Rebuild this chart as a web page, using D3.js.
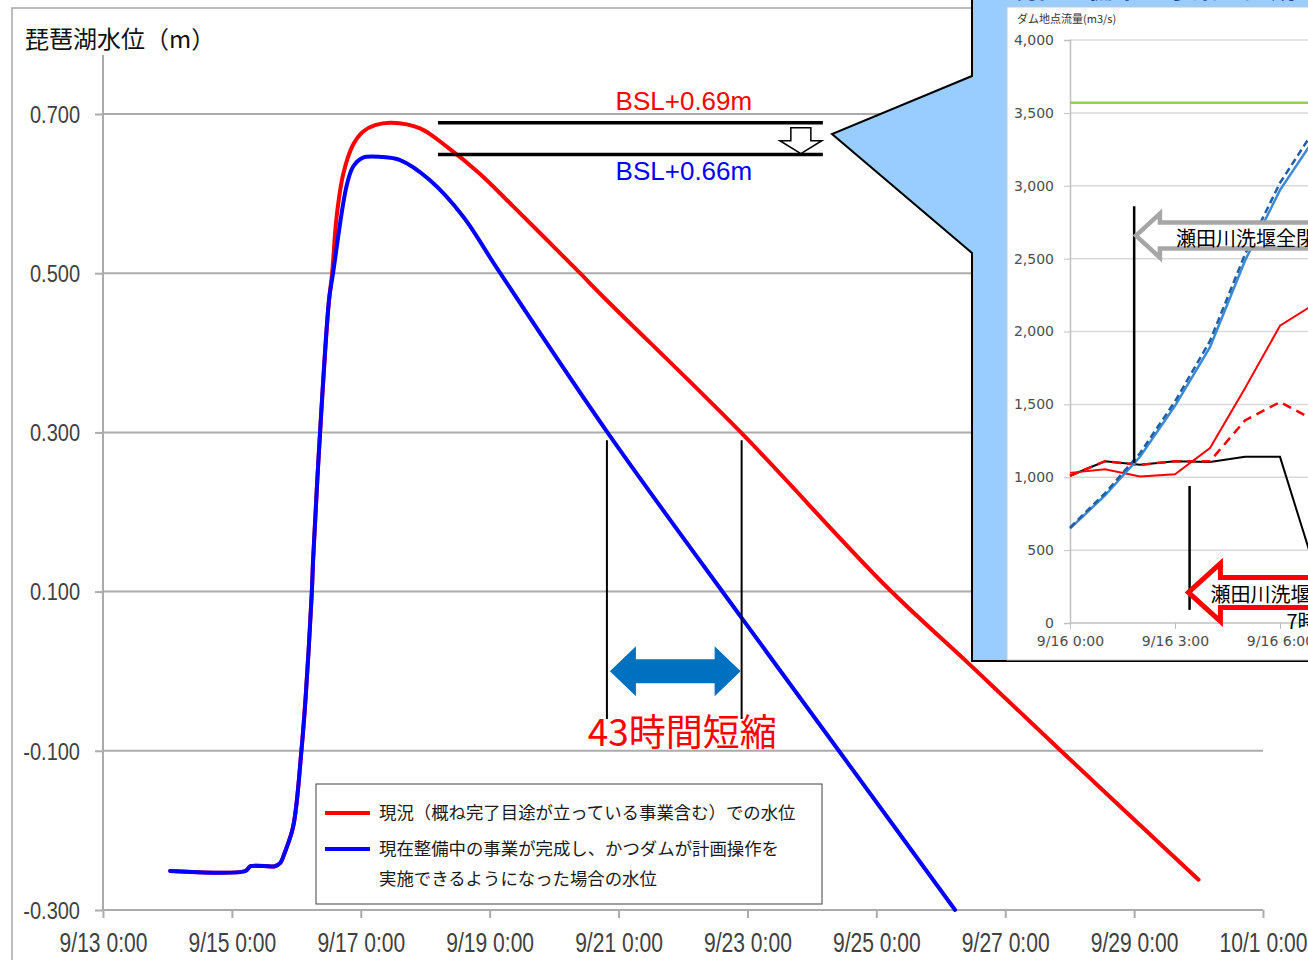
<!DOCTYPE html>
<html>
<head>
<meta charset="utf-8">
<script src="https://cdn.jsdelivr.net/npm/d3@7"></script>
<style>
body { margin: 0; background: #fff; }
svg { display: block; }
</style>
</head>
<body>
<svg id="chart" width="1308" height="960"></svg>
<script>
// ---- main chart data (lake level, m) ----
const yTitle = "琵琶湖水位（m）";
const xTickDates = ["9/13 0:00", "9/15 0:00", "9/17 0:00", "9/19 0:00", "9/21 0:00",
  "9/23 0:00", "9/25 0:00", "9/27 0:00", "9/29 0:00", "10/1 0:00"];
const yTicks = [0.7, 0.5, 0.3, 0.1, -0.1, -0.3];

// 現況
const currentLevel = [
  ["9/14 1:00", -0.251], ["9/15 5:00", -0.251], ["9/15 7:00", -0.245], ["9/15 16:00", -0.245],
  ["9/15 18:00", -0.241], ["9/15 19:40", -0.228], ["9/15 22:50", -0.195], ["9/16 1:55", -0.099],
  ["9/16 3:35", -0.027], ["9/16 5:45", 0.098], ["9/16 6:15", 0.140], ["9/16 8:50", 0.300],
  ["9/16 12:10", 0.466], ["9/16 13:20", 0.500], ["9/16 15:00", 0.571], ["9/16 17:30", 0.625],
  ["9/16 21:05", 0.661], ["9/17 0:55", 0.678], ["9/17 5:20", 0.686], ["9/17 11:30", 0.689],
  ["9/17 22:05", 0.682], ["9/18 8:00", 0.659], ["9/18 20:20", 0.625], ["9/19 8:45", 0.584],
  ["9/19 21:15", 0.542], ["9/20 9:40", 0.500], ["9/20 19:35", 0.466], ["9/22 21:50", 0.299],
  ["9/25 3:15", 0.108], ["9/26 10:55", 0.008], ["9/27 20:25", -0.099], ["9/30 0:00", -0.262]
];
// 整備後
const plannedLevel = [
  ["9/14 1:00", -0.251], ["9/15 5:00", -0.251], ["9/15 7:00", -0.245], ["9/15 16:00", -0.245],
  ["9/15 18:00", -0.241], ["9/15 19:40", -0.228], ["9/15 22:50", -0.195], ["9/16 1:55", -0.099],
  ["9/16 3:35", -0.027], ["9/16 5:45", 0.098], ["9/16 6:15", 0.140], ["9/16 8:50", 0.300],
  ["9/16 12:10", 0.466], ["9/16 13:40", 0.500], ["9/16 18:40", 0.609], ["9/16 21:10", 0.634],
  ["9/17 0:40", 0.645], ["9/17 7:40", 0.646], ["9/17 14:40", 0.642], ["9/18 1:40", 0.617],
  ["9/18 14:10", 0.571], ["9/19 2:35", 0.507], ["9/20 19:40", 0.301],
  ["9/22 21:50", 0.067], ["9/24 9:50", -0.099], ["9/26 5:20", -0.300]
];

const legendLabels = [
  ["現況（概ね完了目途が立っている事業含む）での水位"],
  ["現在整備中の事業が完成し、かつダムが計画操作を", "実施できるようになった場合の水位"]
];
const seriesColors = ["#ff0000", "#0000ff"];

const bslLabels = ["BSL+0.69m", "BSL+0.66m"];
const bslLevels = [0.689, 0.649];
const bslSpan = ["9/18 4:45", "9/24 4:05"];
const bslLabelTime = "9/22 0:20";

const shortenLabel = "43時間短縮";
const shortenTimes = ["9/20 19:40", "9/22 21:50"];
const shortenSpan = [0.29, -0.06];
const shortenArrowLevel = 0.0;

// ---- inset data (dam discharge, m3/s) ----
const insetTitle = "現在整備中の事業が完成した場合";
const insetYTitle = "ダム地点流量(m3/s)";
const insetTimes = ["9/16 0:00", "9/16 1:00", "9/16 2:00", "9/16 3:00",
  "9/16 4:00", "9/16 5:00", "9/16 6:00", "9/16 7:00"];
const insetXTicks = ["9/16 0:00", "9/16 3:00", "9/16 6:00"];
const insetYTicks = [0, 500, 1000, 1500, 2000, 2500, 3000, 3500, 4000];
const insetLimit = 3570;
const inflowSolid = [648, 875, 1140, 1490, 1892, 2486, 2970, 3330];
const inflowDashed = [655, 890, 1165, 1520, 1935, 2530, 3020, 3390];
const releaseNow = [1010, 1110, 1085, 1110, 1105, 1140, 1140, 370];
const outflowNow = [1030, 1055, 1005, 1020, 1200, 1610, 2040, 2190];
const outflowPlan = [1010, 1110, 1085, 1110, 1110, 1390, 1516, 1390];
const insetMarks = [
  { time: "9/16 1:50", from: 2860, to: 1100 },
  { time: "9/16 3:25", from: 940, to: 90 }
];
const insetArrows = [
  { time: "9/16 1:53", value: 2658, lines: ["瀬田川洗堰全閉"], color: "#a6a6a6" },
  { time: "9/16 3:23", value: 210, lines: ["瀬田川洗堰全閉", "7時間後"], color: "#ff0000" }
];

const parseTime = s => d3.timeParse("%Y/%m/%d %H:%M")("2013/" + s);
const jp = "'Noto Sans CJK JP', 'Noto Sans', sans-serif";
const num = "'Liberation Sans', Arial, sans-serif";

const svg = d3.select("#chart");

// outer frame of main chart
svg.append("rect")
  .attr("x", 12).attr("y", 8)
  .attr("width", 1400).attr("height", 1000)
  .attr("fill", "#fff")
  .attr("stroke", "#a6a6a6")
  .attr("stroke-width", 1.5);

const x = d3.scaleTime()
  .domain([parseTime("9/13 0:00"), parseTime("10/1 0:00")])
  .range([103, 1263]);
const y = d3.scaleLinear()
  .domain([-0.3, 0.7])
  .range([910, 114]);

svg.append("text")
  .attr("x", 25).attr("y", 48)
  .attr("font-family", jp)
  .attr("font-size", 24)
  .attr("fill", "#111")
  .text(yTitle);

// gridlines
svg.append("g")
  .selectAll("line")
  .data(yTicks.slice(0, -1))
  .join("line")
  .attr("x1", 103).attr("x2", 1263)
  .attr("y1", d => y(d)).attr("y2", d => y(d))
  .attr("stroke", "#ababab")
  .attr("stroke-width", 2);

// y axis
const yAxis = svg.append("g")
  .attr("transform", "translate(103,0)")
  .call(d3.axisLeft(y).tickValues(yTicks).tickSize(8).tickFormat(d => d.toFixed(3)));
yAxis.select(".domain").remove();
yAxis.append("line")
  .attr("y1", 55).attr("y2", 910)
  .attr("stroke", "#ababab").attr("stroke-width", 2);
yAxis.selectAll(".tick line").attr("stroke", "#ababab").attr("stroke-width", 2);
yAxis.selectAll(".tick text")
  .attr("font-family", num)
  .attr("font-size", 23)
  .attr("fill", "#404040")
  .attr("x", -23 / 0.87)
  .attr("dy", "0.36em")
  .attr("transform", "scale(0.87,1)");

// x axis
const xAxis = svg.append("g")
  .attr("transform", "translate(0,910)")
  .call(d3.axisBottom(x)
    .tickValues(xTickDates.map(parseTime))
    .tickSize(8)
    .tickPadding(15)
    .tickFormat(d3.timeFormat("%-m/%-d %-H:%M")));
xAxis.select(".domain").attr("stroke", "#ababab").attr("stroke-width", 2).attr("d", "M103,0H1263");
xAxis.selectAll(".tick line").attr("stroke", "#ababab").attr("stroke-width", 2);
xAxis.selectAll(".tick text")
  .attr("font-family", num)
  .attr("font-size", 27)
  .attr("fill", "#404040")
  .attr("transform", "scale(0.78,1)");

// series
const line = d3.line()
  .x(d => x(parseTime(d[0])))
  .y(d => y(d[1]))
  .curve(d3.curveCatmullRom.alpha(0.5));

svg.append("g")
  .selectAll("path")
  .data([currentLevel, plannedLevel])
  .join("path")
  .attr("d", line)
  .attr("fill", "none")
  .attr("stroke", (d, i) => seriesColors[i])
  .attr("stroke-width", 4)
  .attr("stroke-linejoin", "round")
  .attr("stroke-linecap", "round");

// BSL annotation
const bsl = svg.append("g");
bsl.selectAll("line")
  .data(bslLevels)
  .join("line")
  .attr("x1", x(parseTime(bslSpan[0])))
  .attr("x2", x(parseTime(bslSpan[1])))
  .attr("y1", d => y(d)).attr("y2", d => y(d))
  .attr("stroke", "#000")
  .attr("stroke-width", 3.5);
bsl.selectAll("text")
  .data(bslLabels)
  .join("text")
  .attr("x", x(parseTime(bslLabelTime)))
  .attr("y", (d, i) => i === 0 ? y(bslLevels[0]) - 13 : y(bslLevels[1]) + 25)
  .attr("text-anchor", "middle")
  .attr("font-family", num)
  .attr("font-size", 26)
  .attr("fill", (d, i) => seriesColors[i])
  .text(d => d);
{
  const ax = x(parseTime(bslSpan[1])) - 22;
  const top = y(bslLevels[0]) + 5;
  const tip = y(bslLevels[1]) - 1;
  bsl.append("path")
    .attr("d", `M${ax - 10},${top} H${ax + 10} V${top + 13} H${ax + 21} L${ax},${tip} L${ax - 21},${top + 13} H${ax - 10} Z`)
    .attr("fill", "#fff")
    .attr("stroke", "#000")
    .attr("stroke-width", 1.5);
}

// 43 hours annotation
const sh = svg.append("g");
const sx = shortenTimes.map(t => x(parseTime(t)));
sh.selectAll("line")
  .data(sx)
  .join("line")
  .attr("x1", d => d).attr("x2", d => d)
  .attr("y1", y(shortenSpan[0])).attr("y2", y(shortenSpan[1]))
  .attr("stroke", "#000")
  .attr("stroke-width", 2);
{
  const ay = y(shortenArrowLevel);
  const l = sx[0] + 3, r = sx[1] - 1;
  sh.append("path")
    .attr("d", `M${l},${ay} L${l + 26},${ay - 25} V${ay - 12} H${r - 26} V${ay - 25} L${r},${ay} L${r - 26},${ay + 25} V${ay + 12} H${l + 26} V${ay + 25} Z`)
    .attr("fill", "#0070c0");
  sh.append("text")
    .attr("x", (sx[0] + sx[1]) / 2 + 8)
    .attr("y", ay + 75)
    .attr("text-anchor", "middle")
    .attr("font-family", jp)
    .attr("font-size", 37)
    .attr("fill", "#ff0000")
    .text(shortenLabel);
}

// legend
const legend = svg.append("g").attr("transform", "translate(316,784)");
legend.append("rect")
  .attr("width", 506).attr("height", 120)
  .attr("fill", "#fff")
  .attr("stroke", "#404040")
  .attr("stroke-width", 1);
const legendRows = legend.selectAll("g")
  .data(legendLabels)
  .join("g")
  .attr("transform", (d, i) => `translate(0,${i === 0 ? 29 : 65})`);
legendRows.append("line")
  .attr("x1", 9).attr("x2", 54)
  .attr("stroke", (d, i) => seriesColors[i])
  .attr("stroke-width", 4);
legendRows.selectAll("text")
  .data(d => d)
  .join("text")
  .attr("x", 63)
  .attr("y", (d, i) => 6 + i * 30)
  .attr("font-family", jp)
  .attr("font-size", 17.4)
  .attr("fill", "#1a1a1a")
  .text(d => d);

// ---- inset ----
const inset = svg.append("g");
inset.append("path")
  .attr("d", "M972,-5 L1320,-5 L1320,661 L972,661 L972,253 L832,134 L972,76 Z")
  .attr("fill", "#99ccff")
  .attr("stroke", "#000")
  .attr("stroke-width", 2);
inset.append("text")
  .attr("x", 1010).attr("y", -2)
  .attr("font-family", jp)
  .attr("font-weight", "bold")
  .attr("font-size", 26)
  .attr("fill", "#1f3c96")
  .text(insetTitle);
inset.append("rect")
  .attr("x", 1007).attr("y", 7)
  .attr("width", 320).attr("height", 653)
  .attr("fill", "#fff")
  .attr("stroke", "#c8c8c8")
  .attr("stroke-width", 1);

const ix = d3.scaleTime()
  .domain([parseTime("9/16 0:00"), parseTime("9/16 6:00")])
  .range([1070, 1280]);
const iy = d3.scaleLinear()
  .domain([0, 4000])
  .range([623, 40]);

inset.append("text")
  .attr("x", 1017).attr("y", 23)
  .attr("font-family", jp)
  .attr("font-size", 11)
  .attr("fill", "#333")
  .text(insetYTitle);

inset.append("g")
  .selectAll("line")
  .data(insetYTicks.slice(1))
  .join("line")
  .attr("x1", 1070).attr("x2", 1320)
  .attr("y1", d => iy(d)).attr("y2", d => iy(d))
  .attr("stroke", "#d9d9d9")
  .attr("stroke-width", 1.5);

const iyAxis = inset.append("g")
  .attr("transform", "translate(1070,0)")
  .call(d3.axisLeft(iy).tickValues(insetYTicks).tickSize(6).tickPadding(10).tickFormat(d3.format(",")));
iyAxis.select(".domain").attr("stroke", "#c0c0c0").attr("stroke-width", 1.5);
iyAxis.selectAll(".tick line").attr("stroke", "#c0c0c0");
iyAxis.selectAll(".tick text")
  .attr("font-family", "'DejaVu Sans', sans-serif")
  .attr("font-size", 14)
  .attr("fill", "#4d4d4d");

const ixAxis = inset.append("g")
  .attr("transform", "translate(0,623)")
  .call(d3.axisBottom(ix).tickValues(insetXTicks.map(parseTime)).tickSize(6).tickPadding(7)
    .tickFormat(d3.timeFormat("%-m/%-d %-H:%M")));
ixAxis.select(".domain").attr("stroke", "#c0c0c0").attr("stroke-width", 1.5).attr("d", "M1070,0H1320");
ixAxis.selectAll(".tick line").attr("stroke", "#c0c0c0");
ixAxis.selectAll(".tick text")
  .attr("font-family", "'DejaVu Sans', sans-serif")
  .attr("font-size", 14)
  .attr("fill", "#4d4d4d");

const insetLine = d3.line()
  .x((d, i) => ix(parseTime(insetTimes[i])))
  .y(d => iy(d));

inset.append("line")
  .attr("x1", 1070).attr("x2", 1320)
  .attr("y1", iy(insetLimit)).attr("y2", iy(insetLimit))
  .attr("stroke", "#92d050")
  .attr("stroke-width", 2.5);

const insetSeries = [
  { data: releaseNow, color: "#000", dash: null, w: 2 },
  { data: outflowNow, color: "#ff0000", dash: null, w: 2 },
  { data: outflowPlan, color: "#ff0000", dash: "9,6", w: 2.5 },
  { data: inflowSolid, color: "#3c8ad2", dash: null, w: 2.5 },
  { data: inflowDashed, color: "#1e5ea6", dash: "7,4", w: 2.5 }
];
inset.append("g")
  .selectAll("path")
  .data(insetSeries)
  .join("path")
  .attr("d", d => insetLine(d.data))
  .attr("fill", "none")
  .attr("stroke", d => d.color)
  .attr("stroke-width", d => d.w)
  .attr("stroke-dasharray", d => d.dash);

inset.append("g")
  .selectAll("line")
  .data(insetMarks)
  .join("line")
  .attr("x1", d => ix(parseTime(d.time))).attr("x2", d => ix(parseTime(d.time)))
  .attr("y1", d => iy(d.from)).attr("y2", d => iy(d.to))
  .attr("stroke", "#000")
  .attr("stroke-width", 2.5);

// hollow left arrows with labels
const arrowG = inset.append("g")
  .selectAll("g")
  .data(insetArrows)
  .join("g")
  .attr("transform", d => `translate(${ix(parseTime(d.time))},${iy(d.value)})`);
arrowG.append("path")
  .attr("d", (d, i) => {
    const hw = i === 0 ? 24 : 32, hh = i === 0 ? 22 : 29, sw = i === 0 ? 13 : 15;
    return `M0,0 L${hw},${-hh} V${-sw} H260 V${sw} H${hw} V${hh} Z`;
  })
  .attr("fill", "#fff")
  .attr("stroke", d => d.color)
  .attr("stroke-width", (d, i) => i === 0 ? 4.5 : 5)
  .attr("stroke-linejoin", "miter");
arrowG.selectAll("text")
  .data((d, i) => d.lines.map((t, j) => ({ t, first: i === 0, j })))
  .join("text")
  .attr("x", d => d.first ? 40 : (d.j === 0 ? 22 : 98))
  .attr("y", d => d.j === 0 ? 10 : 37)
  .attr("font-family", jp)
  .attr("font-size", 20)
  .attr("fill", "#000")
  .text(d => d.t);
</script>
</body>
</html>
